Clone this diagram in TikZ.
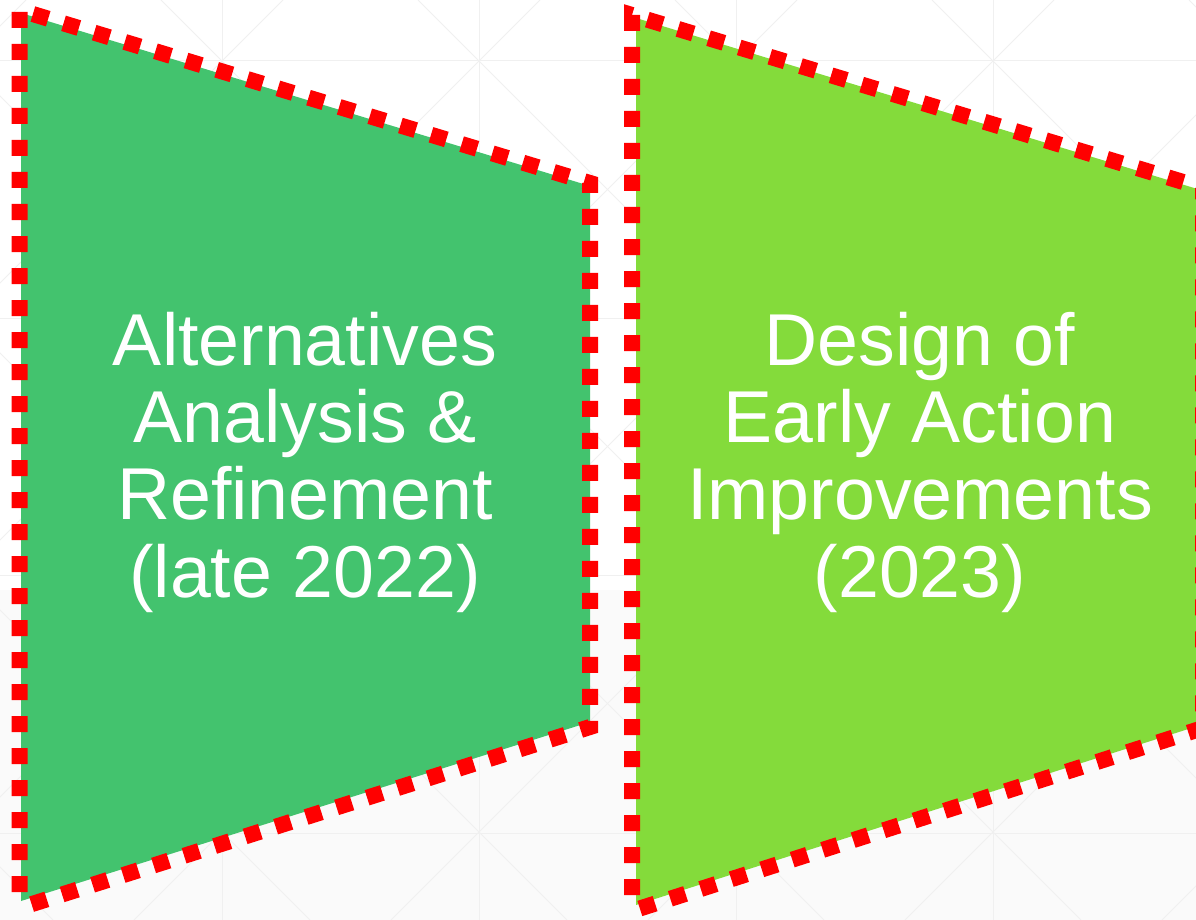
\documentclass[tikz,border=0pt]{standalone}
\usepackage{fontspec}
\setmainfont{Liberation Sans}
\definecolor{boxA}{HTML}{43C36E}
\definecolor{boxB}{HTML}{84DB3B}
\definecolor{gridln}{HTML}{F0F0F0}
\definecolor{bglow}{HTML}{FAFAFA}
\tikzset{
  redline/.style={draw=red, line width=16pt, dash pattern=on 16pt off 16pt, dash phase=16pt, line join=miter, line cap=butt},
  gridline/.style={draw=gridln, line width=1pt},
  lbl/.style={font=\fontsize{73.5}{77.3}\selectfont, text=white, align=center, inner sep=0pt, anchor=north}
}
\begin{document}
\begin{tikzpicture}[x=1pt,y=-1pt]
\useasboundingbox (0,0) rectangle (1196,920);
\clip (0,0) rectangle (1196,920);
\fill[white] (0,0) rectangle (1196,920);
\fill[bglow] (0,590) rectangle (1196,920);
% faint background pattern
\foreach \gx in {222,479,736,993} \draw[gridline] (\gx,0) -- (\gx,920);
\foreach \gy in {61,318,575,833} \draw[gridline] (0,\gy) -- (1196,\gy);
\foreach \k in {-4,...,4} \draw[gridline] ({161+257*\k},0) -- ({161+257*\k+920},920);
\foreach \k in {-1,...,7} \draw[gridline] ({283+257*\k},0) -- ({283+257*\k-920},920);
% left shape
\fill[boxA] (21,13) -- (590,186) -- (590,722) -- (21,901) -- cycle;
\draw[redline] (19.5,908) -- (19.5,10) -- (590,183) -- (590,727) -- cycle;
% right shape
\fill[boxB] (636,18) -- (1204,191) -- (1204,724) -- (636,905) -- cycle;
\draw[redline] (632,911) -- (632,15) -- (1203,188) -- (1203,728) -- cycle;
% labels
\node[lbl] (tA) at (305,305) {\rule{0pt}{60pt}Alternatives\\Analysis \&\\Refinement\\(late 2022)};
\node[lbl] (tB) at (920,305) {\rule{0pt}{60pt}Design of\\Early Action\\Improvements\\(2023)};
\end{tikzpicture}
\end{document}
